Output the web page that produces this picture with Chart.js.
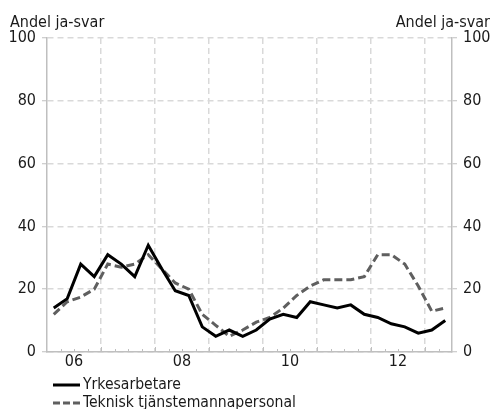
<!DOCTYPE html>
<html>
<head>
<meta charset="utf-8">
<script src="https://cdn.jsdelivr.net/npm/chart.js@4"></script>
<style>
  html, body { margin: 0; padding: 0; background: #fff; }
  #wrap { width: 492px; height: 409px; }
</style>
</head>
<body>
<div id="wrap"><canvas id="jaChart" width="492" height="409"></canvas></div>
<script>
const quarters = [
  '2006K1','2006K2','2006K3','2006K4','2007K1','2007K2','2007K3','2007K4',
  '2008K1','2008K2','2008K3','2008K4','2009K1','2009K2','2009K3','2009K4',
  '2010K1','2010K2','2010K3','2010K4','2011K1','2011K2','2011K3','2011K4',
  '2012K1','2012K2','2012K3','2012K4','2013K1','2013K2'
];
const yrkesarbetare = [14, 17, 28, 24, 31, 28, 24, 34, 26.5, 19.5, 18, 8, 5, 7, 5, 7,
  10.5, 12, 11, 16, 15, 14, 15, 12, 11, 9, 8, 6, 7, 10];
const tjansteman = [12, 16, 17.5, 20, 28, 27, 28, 31, 26.5, 22, 20, 12, 8.5, 5, 7, 9.5,
  11, 14, 18, 21, 23, 23, 23, 24, 31, 31, 28, 21, 13, 14];
const yearLabels = ['06', '08', '10', '12'];
const yTicks = [0, 20, 40, 60, 80, 100];
const seriesNames = ['Yrkesarbetare', 'Teknisk tjänstemannapersonal'];
const axisTitle = 'Andel ja-svar';

const FONT = "'DejaVu Sans Condensed', 'DejaVu Sans', sans-serif";
const GRID = '#d9d9d9';
const AXIS = '#bfbfbf';

// quarter i sits in the middle of its quarter slot
const toPoints = vals => vals.map((v, i) => ({ x: i + 0.5, y: v }));

const decorations = {
  id: 'decorations',
  afterDraw(chart) {
    const { ctx, chartArea, scales } = chart;
    const xs = scales.x;
    ctx.save();
    // small quarter ticks inside the plot
    ctx.strokeStyle = AXIS;
    ctx.lineWidth = 1;
    for (let q = 1; q < quarters.length; q++) {
      const px = Math.round(xs.getPixelForValue(q)) + 0.5;
      const len = q % 4 === 0 ? 5 : 3;
      ctx.beginPath();
      ctx.moveTo(px, chartArea.bottom);
      ctx.lineTo(px, chartArea.bottom - len);
      ctx.stroke();
    }
    // axis titles
    ctx.fillStyle = '#1a1a1a';
    ctx.font = '16px ' + FONT;
    ctx.textBaseline = 'alphabetic';
    ctx.textAlign = 'left';
    ctx.fillText(axisTitle, 10, 27);
    ctx.textAlign = 'right';
    ctx.fillText(axisTitle, 490, 27);
    // legend
    const styles = [
      { color: '#000000', dash: [] },
      { color: '#5f5f5f', dash: [7, 3] }
    ];
    ctx.font = '15.6px ' + FONT;
    ctx.textAlign = 'left';
    ctx.textBaseline = 'middle';
    seriesNames.forEach((name, i) => {
      const y = chartArea.bottom + 33 + i * 18;
      ctx.strokeStyle = styles[i].color;
      ctx.lineWidth = 3;
      ctx.setLineDash(styles[i].dash);
      ctx.beginPath();
      ctx.moveTo(chartArea.left + 6, y);
      ctx.lineTo(chartArea.left + 33, y);
      ctx.stroke();
      ctx.setLineDash([]);
      ctx.fillStyle = '#1a1a1a';
      ctx.fillText(name, chartArea.left + 36, y);
    });
    ctx.restore();
  }
};

const yAxis = (pos) => ({
  type: 'linear',
  position: pos,
  min: 0,
  max: 100,
  afterBuildTicks: s => { s.ticks = yTicks.map(v => ({ value: v })); },
  afterFit: s => { s.width = pos === 'left' ? 47 : 40; },
  ticks: {
    color: '#1a1a1a',
    font: { family: FONT, size: 16 },
    padding: 6
  },
  grid: {
    display: true,
    drawOnChartArea: pos === 'left',
    color: GRID,
    lineWidth: 1.5,
    drawTicks: true,
    tickLength: 5,
    tickColor: AXIS,
    tickWidth: 1
  },
  border: { display: true, color: AXIS, width: 1.5, dash: [6, 4] }
});

new Chart(document.getElementById('jaChart').getContext('2d'), {
  type: 'line',
  data: {
    datasets: [
      {
        label: seriesNames[0],
        data: toPoints(yrkesarbetare),
        borderColor: '#000000',
        borderWidth: 3,
        pointRadius: 0,
        tension: 0,
        yAxisID: 'y'
      },
      {
        label: seriesNames[1],
        data: toPoints(tjansteman),
        borderColor: '#5f5f5f',
        borderWidth: 3,
        borderDash: [8, 4],
        pointRadius: 0,
        tension: 0,
        yAxisID: 'y'
      }
    ]
  },
  options: {
    responsive: false,
    animation: false,
    layout: { padding: { top: 38, left: 0, right: 0, bottom: 0 } },
    plugins: {
      legend: { display: false },
      tooltip: { enabled: false }
    },
    scales: {
      x: {
        type: 'linear',
        min: 0,
        max: quarters.length,
        afterBuildTicks: s => {
          const t = [];
          for (let q = 0; q <= quarters.length; q++) t.push({ value: q });
          s.ticks = t;
        },
        afterFit: s => { s.height = 57; },
        ticks: {
          autoSkip: false,
          maxRotation: 0,
          color: '#1a1a1a',
          font: { family: FONT, size: 16 },
          padding: 0,
          callback: v => (v % 8 === 2 ? yearLabels[(v - 2) / 8] : '')
        },
        grid: {
          drawTicks: false,
          lineWidth: 1.5,
          color: c => {
            const v = c.tick && c.tick.value;
            return (v % 4 === 0 && v > 0 && v < quarters.length) ? GRID : 'rgba(0,0,0,0)';
          }
        },
        border: { display: true, color: AXIS, width: 1.5, dash: [6, 4] }
      },
      y: yAxis('left'),
      y2: yAxis('right')
    }
  },
  plugins: [decorations]
});
</script>
</body>
</html>
